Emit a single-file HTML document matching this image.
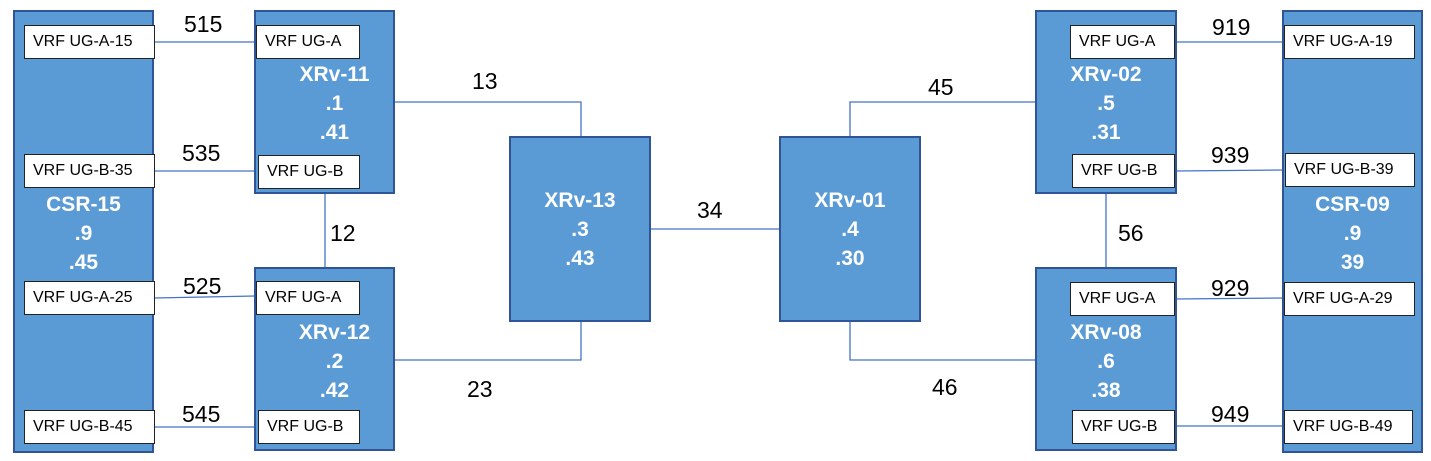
<!DOCTYPE html>
<html><head><meta charset="utf-8"><style>
body{margin:0;width:1431px;height:461px;background:#fff;position:relative;overflow:hidden;font-family:"Liberation Sans","DejaVu Sans",sans-serif}
.node{position:absolute;background:#5b9bd5;border:2px solid #2f5597;box-sizing:border-box}
.lbl{position:absolute;color:#fff;font-weight:bold;font-size:21px;text-align:center;line-height:29px}
.vrf{position:absolute;background:#fff;border:1.5px solid #222;box-sizing:border-box;font-size:16px;display:flex;align-items:center;padding-left:8px;color:#000;white-space:nowrap}
.num{position:absolute;font-size:23px;color:#000;line-height:24px}
svg{position:absolute;left:0;top:0}
</style></head><body>
<svg width="1431" height="461">
<g stroke="#4472c4" stroke-width="1.3" fill="none">
<line x1="154" y1="42" x2="256" y2="42"/>
<line x1="154" y1="171" x2="256" y2="171"/>
<line x1="154" y1="298" x2="256" y2="296"/>
<line x1="154" y1="427" x2="256" y2="427"/>
<polyline points="395,102 581,102 581,137"/>
<polyline points="395,360 581,360 581,321"/>
<line x1="650" y1="229" x2="780" y2="229"/>
<polyline points="850,137 850,102 1036,102"/>
<polyline points="850,321 850,360 1036,360"/>
<line x1="325" y1="193" x2="325" y2="268"/>
<line x1="1106" y1="193" x2="1106" y2="268"/>
<line x1="1174" y1="42" x2="1285" y2="42"/>
<line x1="1174" y1="171" x2="1285" y2="170"/>
<line x1="1174" y1="299" x2="1285" y2="298"/>
<line x1="1174" y1="426" x2="1285" y2="426"/>
</g></svg>

<div class="node" style="left:13px;top:10px;width:141px;height:443px"></div>
<div class="lbl" style="left:13px;top:190px;width:141px">CSR-15<br>.9<br>.45</div>
<div class="vrf" style="left:24px;top:25px;width:131px;height:34px">VRF UG-A-15</div>
<div class="vrf" style="left:24px;top:154px;width:131px;height:34px">VRF UG-B-35</div>
<div class="vrf" style="left:24px;top:281px;width:131px;height:34px">VRF UG-A-25</div>
<div class="vrf" style="left:24px;top:410px;width:131px;height:34px">VRF UG-B-45</div>

<div class="node" style="left:254px;top:10px;width:141px;height:184px"></div>
<div class="lbl" style="left:274px;top:60px;width:121px">XRv-11<br>.1<br>.41</div>
<div class="vrf" style="left:256px;top:25px;width:104px;height:34px">VRF UG-A</div>
<div class="vrf" style="left:258px;top:155px;width:102px;height:34px">VRF UG-B</div>

<div class="node" style="left:254px;top:267px;width:141px;height:184px"></div>
<div class="lbl" style="left:274px;top:318px;width:121px">XRv-12<br>.2<br>.42</div>
<div class="vrf" style="left:256px;top:281px;width:104px;height:34px">VRF UG-A</div>
<div class="vrf" style="left:258px;top:410px;width:102px;height:34px">VRF UG-B</div>

<div class="node" style="left:509px;top:136px;width:142px;height:186px"></div>
<div class="lbl" style="left:509px;top:186px;width:142px">XRv-13<br>.3<br>.43</div>

<div class="node" style="left:779px;top:136px;width:142px;height:186px"></div>
<div class="lbl" style="left:779px;top:186px;width:142px">XRv-01<br>.4<br>.30</div>

<div class="node" style="left:1035px;top:10px;width:142px;height:184px"></div>
<div class="lbl" style="left:1035px;top:60px;width:142px">XRv-02<br>.5<br>.31</div>
<div class="vrf" style="left:1070px;top:25px;width:105px;height:34px">VRF UG-A</div>
<div class="vrf" style="left:1072px;top:154px;width:103px;height:34px">VRF UG-B</div>

<div class="node" style="left:1035px;top:267px;width:142px;height:184px"></div>
<div class="lbl" style="left:1035px;top:318px;width:142px">XRv-08<br>.6<br>.38</div>
<div class="vrf" style="left:1070px;top:282px;width:105px;height:34px">VRF UG-A</div>
<div class="vrf" style="left:1072px;top:410px;width:103px;height:34px">VRF UG-B</div>

<div class="node" style="left:1282px;top:10px;width:141px;height:443px"></div>
<div class="lbl" style="left:1282px;top:190px;width:141px">CSR-09<br>.9<br>39</div>
<div class="vrf" style="left:1284px;top:25px;width:131px;height:34px">VRF UG-A-19</div>
<div class="vrf" style="left:1285px;top:153px;width:130px;height:34px">VRF UG-B-39</div>
<div class="vrf" style="left:1284px;top:282px;width:131px;height:34px">VRF UG-A-29</div>
<div class="vrf" style="left:1284px;top:410px;width:129px;height:34px">VRF UG-B-49</div>

<div class="num" style="left:184px;top:12px">515</div>
<div class="num" style="left:182px;top:141px">535</div>
<div class="num" style="left:183px;top:274px">525</div>
<div class="num" style="left:182px;top:402px">545</div>
<div class="num" style="left:472px;top:69px">13</div>
<div class="num" style="left:467px;top:377px">23</div>
<div class="num" style="left:697px;top:198px">34</div>
<div class="num" style="left:928px;top:75px">45</div>
<div class="num" style="left:932px;top:375px">46</div>
<div class="num" style="left:330px;top:221px">12</div>
<div class="num" style="left:1118px;top:221px">56</div>
<div class="num" style="left:1212px;top:15px">919</div>
<div class="num" style="left:1211px;top:143px">939</div>
<div class="num" style="left:1211px;top:276px">929</div>
<div class="num" style="left:1211px;top:402px">949</div>
</body></html>
